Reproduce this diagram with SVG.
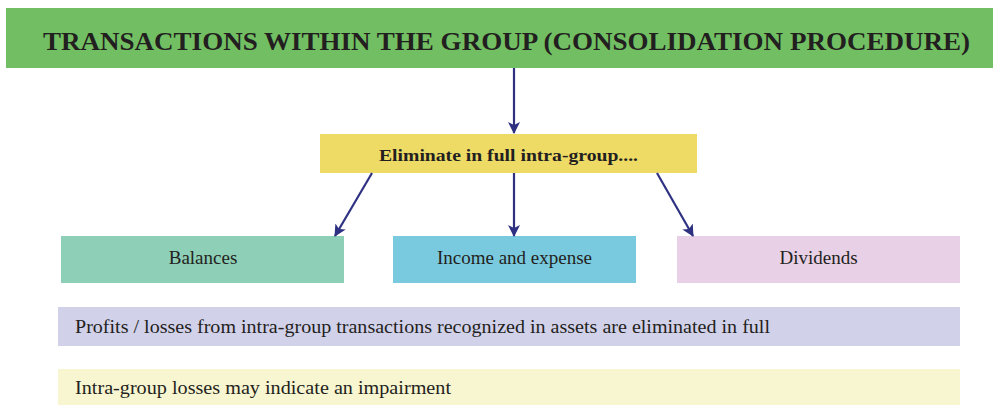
<svg xmlns="http://www.w3.org/2000/svg" width="993" height="405" viewBox="0 0 993 405">
<style>
.t{font-family:"Liberation Serif","Times New Roman",serif;fill:#231f20}
.b{font-weight:bold}
.l{font-size:19px;text-anchor:middle}
.c{stroke:#2e3182;stroke-width:2.2;fill:none}
</style>
<defs>
<marker id="ah" viewBox="0 0 12 12" refX="11" refY="6" markerWidth="12" markerHeight="12" markerUnits="userSpaceOnUse" orient="auto">
<path d="M0,0 L12,6 L0,12 L3,6 Z" fill="#2e3182"/>
</marker>
</defs>
<rect width="993" height="405" fill="#ffffff"/>
<g id="title">
<rect x="6" y="8" width="987" height="60" fill="#72bf63"/>
<text class="t b" x="43" y="50" font-size="25" textLength="927" lengthAdjust="spacingAndGlyphs">TRANSACTIONS WITHIN THE GROUP (CONSOLIDATION PROCEDURE)</text>
</g>
<g id="eliminate">
<rect x="320" y="134" width="377" height="39" fill="#eedb66"/>
<text class="t b" x="379" y="161" font-size="17" textLength="259" lengthAdjust="spacingAndGlyphs">Eliminate in full intra-group....</text>
</g>
<g id="balances">
<rect x="61" y="236" width="283" height="47" fill="#8ecfb7"/>
<text class="t l" x="203" y="264">Balances</text>
</g>
<g id="income">
<rect x="393" y="236" width="243" height="47" fill="#7acadf"/>
<text class="t l" x="514.5" y="264">Income and expense</text>
</g>
<g id="dividends">
<rect x="677" y="236" width="283" height="47" fill="#e8d0e6"/>
<text class="t l" x="818.5" y="264">Dividends</text>
</g>
<g id="profits">
<rect x="58" y="307" width="902" height="39" fill="#d2d1ea"/>
<text class="t" x="75" y="333" font-size="18" textLength="695" lengthAdjust="spacingAndGlyphs">Profits / losses from intra-group transactions recognized in assets are eliminated in full</text>
</g>
<g id="impairment">
<rect x="58" y="369" width="902" height="36" fill="#f8f5d1"/>
<text class="t" x="75" y="394" font-size="18" textLength="376" lengthAdjust="spacingAndGlyphs">Intra-group losses may indicate an impairment</text>
</g>
<g id="connectors">
<line class="c" x1="514" y1="68" x2="514" y2="133" marker-end="url(#ah)"/>
<line class="c" x1="372" y1="173" x2="335" y2="236" marker-end="url(#ah)"/>
<line class="c" x1="514" y1="173" x2="514" y2="236" marker-end="url(#ah)"/>
<line class="c" x1="657" y1="173" x2="693" y2="236" marker-end="url(#ah)"/>
</g>
</svg>
